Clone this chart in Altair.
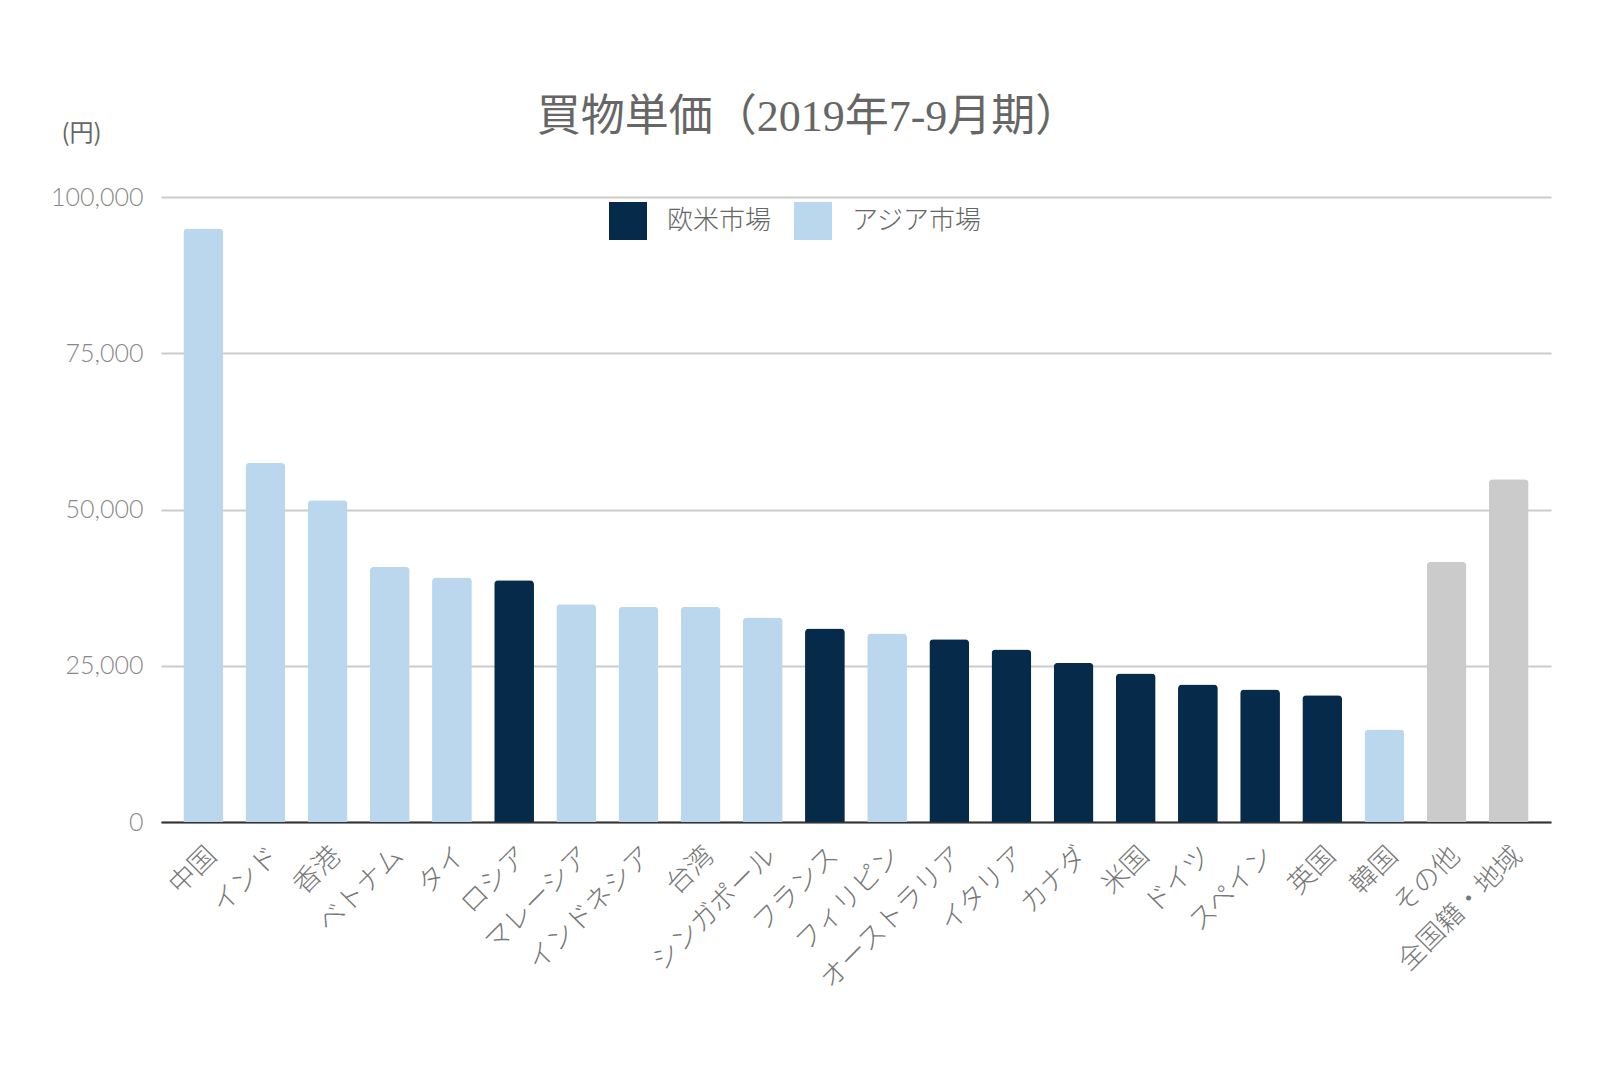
import altair as alt
import pandas as pd

countries = ["中国", "インド", "香港", "ベトナム", "タイ", "ロシア", "マレーシア", "インドネシア",
             "台湾", "シンガポール", "フランス", "フィリピン", "オーストラリア", "イタリア", "カナダ",
             "米国", "ドイツ", "スペイン", "英国", "韓国", "その他", "全国籍・地域"]
values = [94950, 57450, 51490, 40820, 39120, 38690, 34850, 34420,
          34420, 32720, 30970, 30170, 29250, 27610, 25460,
          23770, 22010, 21210, 20300, 14810, 41620, 54850]
markets = ["アジア市場", "アジア市場", "アジア市場", "アジア市場", "アジア市場", "欧米市場",
           "アジア市場", "アジア市場", "アジア市場", "アジア市場", "欧米市場", "アジア市場",
           "欧米市場", "欧米市場", "欧米市場", "欧米市場", "欧米市場", "欧米市場", "欧米市場",
           "アジア市場", "その他", "その他"]

df = pd.DataFrame({"国": countries, "買物単価": values, "市場": markets})

JP = "Noto Sans CJK JP"

bars = alt.Chart(df).mark_bar(
    cornerRadiusTopLeft=4, cornerRadiusTopRight=4
).encode(
    x=alt.X("国:N", sort=countries,
            scale=alt.Scale(paddingInner=0.36, paddingOuter=0.36),
            axis=alt.Axis(title=None, labelAngle=-45, labelFontSize=27, labelFont=JP,
                          labelFontWeight=300, labelColor="#777777", labelPadding=20,
                          labelLimit=400, ticks=False, domainColor="#333333",
                          domainWidth=2, grid=False)),
    y=alt.Y("買物単価:Q",
            scale=alt.Scale(domain=[0, 100000], nice=False),
            axis=alt.Axis(title="(円)", values=[0, 25000, 50000, 75000, 100000], format=",d",
                          labelFont="Lato", labelFontSize=25, labelColor="#888888",
                          labelFontWeight=300, labelPadding=18,
                          ticks=False, domain=False, gridColor="#cccccc", gridWidth=2,
                          titleAngle=0, titleX=-100, titleY=-64, titleAlign="left",
                          titleBaseline="middle", titleFont=JP, titleFontSize=24,
                          titleFontWeight="normal", titleColor="#666666")),
    color=alt.Color("市場:N",
                    scale=alt.Scale(domain=["欧米市場", "アジア市場", "その他"],
                                    range=["#062b4a", "#bad7ee", "#cbcbcb"]),
                    legend=alt.Legend(title=None, values=["欧米市場", "アジア市場"],
                                      orient="none", legendX=448, legendY=5,
                                      direction="horizontal", symbolType="square",
                                      symbolSize=1444, symbolStrokeWidth=0,
                                      symbolOpacity=1, labelFont=JP, labelFontSize=26,
                                      labelFontWeight=300, labelBaseline="middle",
                                      labelColor="#666666", labelOffset=20,
                                      columnPadding=22, padding=0))
)

chart = bars.properties(
    width=1390, height=625,
    padding={"left": 153, "top": 189, "right": 40, "bottom": 230},
    autosize=alt.AutoSizeParams(type="none"),
    background="white",
    title=alt.TitleParams(text="買物単価（2019年7-9月期）", font="Liberation Serif, " + JP,
                          fontSize=44, fontWeight="normal", color="#666666",
                          anchor="middle", dx=-48, dy=59, offset=40),
).configure_view(stroke=None)

chart.save("out.html", embed_options={"renderer": "svg", "actions": False})
